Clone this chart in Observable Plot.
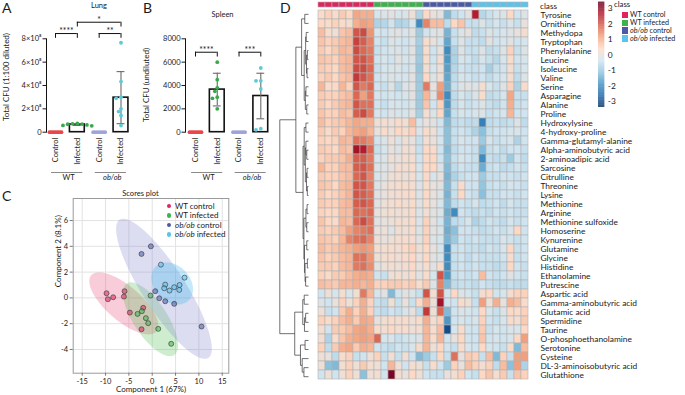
<!DOCTYPE html>
<html>
<head>
<meta charset="utf-8">
<script src="https://cdn.jsdelivr.net/npm/d3@7"></script>
<script src="https://cdn.jsdelivr.net/npm/@observablehq/plot@0.6"></script>
<style>
  html,body{margin:0;padding:0;background:#fff;}
  #wrap{position:relative;width:685px;height:395px;overflow:hidden;background:#fff;font-family:Lato,"Open Sans",sans-serif;color:#1a1a1a;}
  #wrap > svg{position:absolute;left:0;top:0;}
  .t{position:absolute;white-space:nowrap;line-height:1;color:#1a1a1a;}
</style>
</head>
<body>
<div id="wrap"></div>
<script>
// ===================== DATA =====================
const groups = ["WT control","WT infected","ob/ob control","ob/ob infected"];
const conditionTicks = ["Control","Infected","Control","Infected"];
const genotypes = ["WT","ob/ob"];

// Panel A – Lung, total CFU (1:100 diluted)
const lungPoints = [
  [0,0,0,0,0,0,0,0],
  [0.72e8,0.68e8,0.62e8,0.58e8,0.55e8,0.70e8,0.75e8],
  [0,0,0,0,0,0,0],
  [7.66e8,4.34e8,3.0e8,2.9e8,2.0e8,1.77e8,1.43e8,0.57e8]
];
const lungMean = [0,0.66e8,0,2.96e8];
const lungSD = [0,0.08e8,0,2.23e8];
const lungTicks = [0,2e8,4e8,6e8,8e8];
const lungSigPairs = [[0,1],[2,3],[1,3]];
const lungSigLabels = ["****","**","*"];
const lungSigLevels = [8.45e8,8.45e8,9.42e8];

// Panel B – Spleen, total CFU (undiluted)
const spleenPoints = [
  [0,0,0,0,0,0,0,0],
  [6000,4500,3800,3500,3000,2900,2000],
  [0,0,0,0,0,0,0],
  [5500,4400,4400,3700,200,300]
];
const spleenMean = [0,3650,0,3100];
const spleenSD = [0,1400,0,1950];
const spleenTicks = [0,2000,4000,6000,8000];
const spleenSigPairs = [[0,1],[2,3]];
const spleenSigLabels = ["****","***"];
const spleenSigLevels = [6850,6850];

// Panel C – PLS-DA scores (Component 1, Component 2)
const scoresWTcontrol = [[-9.79,0.36],[-9.5,-0.10],[-8.36,0.05],[-5.93,0.52],[-6.07,0.10],[-4.79,-1.14],[-1.93,-0.77],[-2.29,-2.43]];
const scoresWTinfected = [[-3.14,-1.24],[-2.21,-1.03],[-1.36,-1.57],[-0.86,-1.96],[-0.36,0.18],[1.29,-2.40],[4.07,-3.56]];
const scoresObControl = [[-2.29,3.41],[-0.29,4.0],[0.64,0.52],[1.5,-0.03],[2.79,-0.26],[4.71,-0.46],[10.57,-2.22]];
const scoresObInfected = [[1.86,2.58],[2.79,1.03],[2.57,0.75],[3.71,0.57],[4.71,0.83],[5.86,1.0],[5.79,0.62],[6.93,1.57]];
const scoresXTicks = [-15,-10,-5,0,5,10,15];
const scoresYTicks = [-4,-2,0,2,4,6];

// Panel D – heatmap
const metabolites = ["Tyrosine","Ornithine","Methydopa","Tryptophan","Phenylalanine","Leucine","Isoleucine","Valine","Serine","Asparagine","Alanine","Proline","Hydroxylysine","4-hydroxy-proline","Gamma-glutamyl-alanine","Alpha-aminobutyric acid","2-aminoadipic acid","Sarcosine","Citrulline","Threonine","Lysine","Methionine","Arginine","Methionine sulfoxide","Homoserine","Kynurenine","Glutamine","Glycine","Histidine","Ethanolamine","Putrescine","Aspartic acid","Gamma-aminobutyric acid","Glutamic acid","Spermidine","Taurine","O-phosphoethanolamine","Serotonine","Cysteine","DL-3-aminoisobutyric acid","Glutathione"];
const sampleClass = ["WT control","WT control","WT control","WT control","WT control","WT control","WT control","WT control",
  "WT infected","WT infected","WT infected","WT infected","WT infected","WT infected","WT infected",
  "ob/ob control","ob/ob control","ob/ob control","ob/ob control","ob/ob control","ob/ob control","ob/ob control",
  "ob/ob infected","ob/ob infected","ob/ob infected","ob/ob infected","ob/ob infected","ob/ob infected","ob/ob infected","ob/ob infected"];
const heat = [
[0.3,0.5,0.3,0.6,0.4,1.1,1.0,1.0,-0.3,-0.2,-0.1,-0.3,-0.2,0.1,-0.8,0.4,0.0,-0.1,-1.3,-0.6,-0.4,-0.1,2.6,-0.7,-0.5,-0.3,-0.2,0.4,-0.4,-0.2],
[0.4,0.3,0.5,0.3,0.2,1.0,1.2,1.1,-0.8,-0.7,-0.4,-0.8,-0.7,-0.3,-2.0,1.5,0.8,0.8,-0.6,0.4,0.7,-0.5,-0.5,-0.2,-0.5,-0.3,-0.5,-0.2,-0.5,0.0],
[0.8,0.3,0.1,0.7,0.8,2.0,2.1,1.3,-0.3,-0.4,-0.2,-0.1,-0.3,-0.1,-1.0,-0.4,-0.2,-0.1,-1.4,-0.5,-0.2,0.0,-0.6,-0.5,-0.2,-0.4,-0.3,-0.2,0.0,0.2],
[0.7,0.5,0.6,0.8,0.9,2.2,1.9,1.5,-0.4,-0.5,-0.2,-0.3,-0.4,-0.2,-0.9,0.3,0.0,-0.3,-1.6,-0.5,-0.2,-0.5,-0.5,-0.6,-0.1,-0.4,-0.3,-0.1,-0.4,-0.3],
[0.6,0.4,0.6,0.9,0.8,2.1,1.8,1.6,-0.5,-0.4,-0.3,-0.2,-0.4,-0.1,-1.0,0.3,-0.4,0.0,-2.0,-0.8,-0.2,-0.5,-0.5,-0.2,-0.6,-0.5,-0.2,0.5,-0.5,-0.2],
[0.7,0.6,0.5,0.8,0.9,2.0,2.0,1.7,-0.4,-0.3,-0.4,-0.1,-0.3,-0.2,-1.0,0.3,-0.4,0.2,-1.8,-0.8,-0.3,-0.4,-0.6,-0.3,-0.5,-0.7,-0.3,0.3,-0.4,-0.3],
[0.6,0.5,0.4,0.8,0.9,2.1,2.1,1.8,-0.5,-0.3,-0.3,-0.2,-0.4,-0.2,-1.1,0.2,-0.3,0.1,-1.7,-0.7,-0.4,-0.5,-0.5,-0.4,-0.9,-0.5,-0.4,0.2,-0.5,-0.3],
[0.5,0.6,0.4,0.7,0.8,2.3,2.0,1.7,-0.4,-0.3,-0.2,-0.3,-0.3,-0.1,-1.0,0.4,-0.2,0.1,-1.6,-0.6,-0.3,-0.4,-0.5,-0.4,-0.6,-0.4,-0.3,0.2,-0.6,-0.2],
[0.9,0.3,0.4,0.9,0.5,2.0,1.6,1.8,-0.4,-0.5,-0.2,-0.7,-0.2,-0.1,-1.0,1.6,0.0,1.2,-1.5,-0.5,-0.2,-0.1,-0.2,0.2,-0.3,-0.5,-0.2,0.5,-0.8,0.3],
[0.6,0.5,0.5,0.7,0.8,1.8,1.2,1.6,-0.3,-0.4,-0.3,-0.4,-0.3,-0.1,-1.0,0.9,-0.1,1.4,-2.0,-0.6,-0.3,-0.5,-0.2,0.3,-0.6,-0.5,-0.3,1.1,-0.5,-0.5],
[0.6,0.4,0.6,0.8,0.9,2.0,1.7,1.7,-0.4,-0.5,-0.3,-0.3,-0.4,-0.2,-1.0,0.7,-0.4,0.5,-1.8,-0.6,-0.3,-0.5,-0.4,-0.2,-0.5,-0.6,-0.4,1.0,-0.5,-0.4],
[0.7,0.5,0.5,0.8,0.7,1.9,2.1,1.6,-0.3,-0.4,-0.2,-0.3,-0.3,-0.1,-0.9,0.2,-0.2,0.4,-1.6,-0.5,-0.3,-0.4,-0.3,-0.2,-0.5,-0.4,-0.3,0.9,-0.4,-0.4],
[0.8,0.5,0.6,0.7,0.9,1.1,1.0,1.0,0.1,0.2,0.1,0.3,0.2,0.8,-0.3,0.0,-0.1,-0.4,-1.3,-0.6,-0.5,-0.6,-0.6,-2.2,-0.6,-0.5,-0.6,-0.5,-0.2,-0.6],
[0.6,0.3,0.6,0.5,0.9,1.1,1.2,0.9,0.0,0.3,0.1,0.4,0.3,0.5,-0.2,0.3,0.1,-0.4,-1.2,-0.5,-0.4,-0.5,-0.8,-1.2,-0.5,-0.4,-0.4,-0.3,-0.3,-0.4],
[0.5,0.4,0.5,0.9,0.8,1.7,1.6,1.4,-0.4,-0.2,0.1,-0.2,0.1,0.0,-0.5,0.2,0.0,-0.3,-1.2,-0.5,-0.3,-0.4,-0.4,-1.0,-0.3,-0.5,-0.4,-0.3,-0.8,-0.4],
[0.6,0.5,0.4,0.8,0.7,2.8,2.6,1.8,-0.5,-0.3,0.0,-0.2,0.2,0.1,-0.5,0.4,0.3,-0.4,-1.3,-0.6,-0.4,-0.4,-0.5,-1.3,-0.5,-0.4,-0.6,-0.4,-0.4,-0.5],
[0.5,0.6,0.6,0.7,1.0,1.9,1.9,1.6,-0.3,-0.2,0.1,0.0,0.2,0.2,-0.4,0.4,0.4,-0.4,-1.2,-0.5,-0.3,-0.4,-0.5,-2.0,-0.5,-0.6,-0.5,-1.0,-0.4,-0.6],
[0.9,0.5,0.5,0.8,0.8,1.9,2.0,1.7,-0.2,-0.2,0.0,0.2,0.2,0.3,-0.3,0.4,0.4,-0.2,-1.3,-0.6,-0.4,-0.5,-0.5,-1.5,-0.5,-0.4,-0.6,-0.5,-0.4,-0.5],
[0.6,0.5,0.5,0.7,0.8,1.8,2.0,1.5,-0.3,-0.1,0.1,0.2,0.1,0.2,-0.3,0.4,-0.3,0.0,-1.4,-0.8,-0.5,-0.4,-0.4,-1.0,-0.5,-0.5,-0.4,-0.4,-0.5,-0.4],
[0.7,0.6,0.4,0.8,0.9,2.0,2.0,1.6,-0.2,0.0,0.2,0.2,0.3,0.2,-0.2,0.3,0.0,-0.1,-1.3,-0.5,0.3,-0.4,-0.4,-1.1,-0.5,-0.4,-0.5,-0.3,-0.4,-0.5],
[0.6,0.4,0.5,0.7,0.9,2.0,1.9,1.7,-0.1,0.0,0.2,0.2,0.3,0.3,-0.2,0.4,0.0,-0.2,-1.4,-0.5,0.4,-0.4,-0.5,-1.2,-0.5,-0.5,-0.4,-0.4,-0.5,-0.4],
[0.6,0.5,0.5,0.8,0.9,1.9,2.0,1.8,-0.1,0.1,0.2,0.3,0.2,0.3,-0.1,0.3,0.0,-0.3,-1.3,-0.6,-0.4,-0.5,-0.3,-0.6,-0.5,-0.4,-0.6,-0.3,-0.5,-0.5],
[0.5,0.4,0.4,0.8,0.8,1.8,1.7,1.8,0.0,0.1,0.2,0.1,0.2,0.3,-0.2,0.2,-0.1,-0.2,-1.5,-2.0,-0.4,-0.5,-0.6,-0.5,-0.6,-0.4,-0.5,-0.4,-0.5,-0.5],
[0.7,0.4,0.3,0.9,0.8,1.8,2.1,1.7,-0.1,0.0,0.1,0.2,0.2,0.3,-0.2,0.5,-0.1,-0.4,-1.4,-0.6,-0.5,-0.3,-0.8,-0.6,-0.4,-0.5,-0.6,-0.3,-0.5,-0.4],
[0.6,0.5,0.6,0.8,1.2,1.5,1.6,1.7,0.0,0.1,-0.2,0.2,0.1,0.3,-0.2,0.5,-0.1,-0.2,-1.5,-1.2,-0.4,-0.4,-0.5,-0.6,-0.5,-0.4,-0.5,-0.3,0.4,-0.4],
[0.7,0.6,0.5,0.9,1.5,1.7,1.8,1.5,0.1,0.0,0.1,0.2,0.3,0.2,-0.1,0.5,-0.2,-0.3,-1.4,-1.0,-0.4,-0.5,-0.4,-0.5,-0.5,-0.5,-0.3,-0.4,-0.5,-0.4],
[0.8,0.6,0.7,0.9,1.0,1.2,1.3,1.2,0.2,0.2,0.3,0.2,0.4,0.5,0.1,0.4,0.0,-0.3,-2.0,-0.5,-0.4,-0.5,-0.5,-0.6,-0.4,-0.5,-0.3,0.4,-0.5,-0.4],
[0.7,0.5,0.6,0.8,0.9,1.7,1.7,1.3,0.1,0.2,0.3,0.1,0.3,0.4,0.0,0.4,-0.1,-0.2,-2.0,-0.5,-0.4,-0.6,-0.4,-0.5,-0.5,-0.5,-0.4,0.3,-0.5,-0.4],
[0.6,0.6,0.5,0.8,0.9,1.6,1.7,1.4,-0.1,0.1,0.2,0.1,0.2,0.4,0.0,0.3,-0.1,0.3,-2.0,-0.5,-0.4,-0.5,-0.4,-0.5,-0.5,-0.6,-0.5,0.4,-0.4,-0.5],
[0.5,0.3,0.6,0.6,0.8,1.0,1.1,1.0,-0.4,-0.5,0.1,0.2,0.1,0.3,-0.1,0.3,-0.3,2.0,-1.8,-0.5,-0.4,-0.5,-0.4,0.8,-0.4,-0.5,-0.4,-0.1,-0.4,-0.5],
[0.8,0.7,0.6,0.9,0.9,1.0,0.9,1.0,0.5,0.5,0.6,0.6,0.5,0.6,0.3,0.6,-0.2,1.5,-1.3,-0.6,-0.5,-0.5,-0.6,-0.4,-0.5,-0.6,-0.6,-0.5,-0.6,-0.6],
[-0.4,0.1,-0.3,0.2,-0.3,0.2,1.6,0.9,-0.3,-0.1,-1.3,-0.4,-0.1,-0.2,-0.5,2.0,0.2,2.0,-0.3,0.4,-0.2,-0.3,-0.5,0.2,0.4,-0.4,-0.3,0.2,0.5,0.5],
[-0.2,-0.4,0.0,0.5,0.1,0.5,1.0,0.5,-0.5,-0.6,0.1,-0.5,0.0,-0.5,0.4,1.0,0.1,2.8,-0.4,-0.4,0.3,0.1,-0.5,1.2,0.1,1.0,0.0,1.0,0.8,0.3],
[0.1,-0.5,-0.4,0.6,1.0,0.5,1.0,0.5,-0.5,-0.6,-0.4,-0.5,-0.3,0.0,-0.6,2.3,0.1,1.8,-1.3,-0.4,-0.2,-0.3,-0.4,0.4,-0.3,-0.5,-0.2,0.4,0.3,0.5],
[0.5,0.3,0.5,0.8,1.0,0.6,1.1,1.0,0.0,0.2,0.3,0.2,0.3,0.1,0.3,1.0,0.2,0.5,-1.8,-0.4,-0.3,-0.4,-0.3,0.5,-0.4,-0.5,-0.3,0.3,0.2,0.6],
[0.2,-0.4,0.6,0.6,0.8,1.1,1.2,1.0,0.3,0.2,0.4,0.2,0.3,0.1,0.2,0.9,0.3,0.8,-3.0,-0.3,0.3,-0.4,-0.4,0.6,-0.5,-0.3,-0.4,-0.2,-0.3,0.4],
[0.2,-0.8,0.3,0.7,1.0,1.1,1.2,1.1,1.8,-0.3,-0.3,-0.5,-0.4,-0.3,-0.2,0.9,0.3,0.9,-0.4,0.0,0.4,-0.4,-0.4,0.7,-0.4,-0.3,-0.4,-0.3,0.4,1.2],
[0.5,-0.6,0.6,1.0,1.1,0.6,1.0,0.9,-0.4,-0.5,-0.6,-0.4,-0.5,-0.3,0.3,0.9,0.1,0.4,-0.4,-0.5,0.3,-0.3,-0.4,0.4,-0.3,-0.4,-0.5,0.3,-1.3,0.8],
[0.1,0.0,-0.6,0.3,0.5,-0.5,-0.4,0.1,0.5,-0.5,0.1,-0.5,0.1,-0.4,-1.3,-1.0,-0.5,0.4,-0.5,1.7,0.0,0.6,0.5,-0.5,0.8,-1.3,0.5,-0.5,1.2,1.2],
[0.1,-1.2,-1.3,0.2,0.5,0.1,0.6,0.2,0.1,-0.4,0.9,0.1,-0.4,0.2,0.1,-0.5,0.3,-0.4,-1.0,0.5,0.0,0.8,0.5,0.2,0.5,-0.6,0.8,-1.2,1.2,-0.8],
[-0.4,0.1,-0.4,0.1,0.5,0.1,-1.2,0.1,0.2,-0.4,3.2,0.2,0.0,0.4,0.1,-0.4,-0.5,-0.5,0.0,0.2,0.5,-0.4,-0.5,0.4,0.7,0.2,0.6,-0.5,0.7,0.5]
];
const heatLegendTicks = [-3,-2,-1,0,1,2,3];
const heatPalette = ["#053061","#2166ac","#4393c3","#92c5de","#d1e5f0","#fddbc7","#f4a582","#d6604d","#b2182b","#67001f"];
// row dendrogram: [left, right, mergeHeight]; leaves are row indices
const treeTopA = [[0,1,1.3],[[[2,3,0.8],[[4,5,0.4],[6,7,0.5],0.7],1.0],[[8,9,0.9],[10,11,0.6],1.1],1.5],2.4];
const treeTopB1 = [[12,13,0.9],[[14,[15,16,0.6],0.9],[[17,18,0.5],[19,20,0.4],0.7],1.1],1.5];
const treeTopB2 = [[[21,22,0.5],[23,24,0.6],0.9],[[25,26,0.6],[[27,28,0.4],[29,30,1.0],1.2],1.4],1.6];
const treeBottom = [[[31,32,1.5],[[33,34,1.0],35,1.4],2.0],[[36,37,1.2],[38,[39,40,1.6],2.2],2.8],4.8];
const rowTree = [[treeTopA,[treeTopB1,treeTopB2,1.9],4.4],treeBottom,10];

// colours
const classColors = ["#e0245e","#3cb44b","#4a5aa8","#5bc3ec"];
const barColors = ["#e8474a","#3aa84c","#9ea3dc","#5ccad8"];
const ellipseColors = ["#e8557f","#5dbf5d","#8a90d0","#3db7ee"];

// ===================== RENDER =====================
const W = 685, H = 395;
const FONT = 'Lato, "Open Sans", sans-serif';
const wrap = document.getElementById("wrap");
const base = () => ({width: W, height: H, style: {background: "transparent", fontFamily: FONT, color: "#1a1a1a", overflow: "visible"}});
function mount(svg){ wrap.appendChild(svg); }
function txt(html, x, y, size, transform = "translate(-50%,-50%)", extra = {}){
  const d = document.createElement("div");
  d.className = "t"; d.innerHTML = html;
  d.style.left = x + "px"; d.style.top = y + "px"; d.style.fontSize = size + "px";
  d.style.transform = transform;
  Object.assign(d.style, extra);
  wrap.appendChild(d);
}
function swarmOffsets(py, diam, step){
  const order = d3.range(py.length).sort((a,b) => py[a]-py[b]);
  const placed = [], offs = [];
  for (const i of order){
    let o = 0;
    for (let k = 0; k < 40; k++){
      o = k === 0 ? 0 : (k % 2 ? -1 : 1) * Math.ceil(k/2) * step;
      if (placed.every(p => (p.x-o)**2 + (p.y-py[i])**2 >= diam*diam)) break;
    }
    placed.push({x:o, y:py[i]}); offs[i] = o;
  }
  return offs;
}

function barPanel({points, means, sds, ticks, tickFormat, sigPairs, sigLabels, sigLevels, axisX, xRange, yDomain}){
  const yRange = [131.7, 38.3];
  const yS = Plot.scale({y: {domain: yDomain, range: yRange}});
  const unit = (xRange[1]-xRange[0])/3;
  const dots = [];
  points.forEach((vals, g) => {
    const py = vals.map(v => yS.apply(v));
    const offs = d3.min(vals) === d3.max(vals)
      ? vals.map((v,i) => (i/(vals.length-1)-0.5)*12)
      : swarmOffsets(py, 3.6, 2.4);
    vals.forEach((v,i) => dots.push({g, v, x: g + offs[i]/unit}));
  });
  const bars = means.map((m,g) => ({g, m, sd: sds[g]})).filter(d => d.m > 0);
  const sig = sigPairs.map(([a,b],k) => ({a, b, label: sigLabels[k], lv: sigLevels[k], leg: yS.invert(yS.apply(sigLevels[k]) + 4.8)}));
  const hw = 0.34, cap = 0.18;
  return Plot.plot({...base(),
    marginLeft: axisX, marginRight: W-(xRange[1]+12), marginTop: yRange[1], marginBottom: H-yRange[0],
    x: {type: "linear", domain: [0,3], range: xRange, axis: null},
    y: {type: "linear", domain: yDomain, range: yRange, axis: null},
    color: {type: "ordinal", domain: [0,1,2,3], range: barColors},
    marks: [
      Plot.frame({anchor: "left", stroke: "#111", strokeWidth: 1}),
      Plot.axisY({ticks, tickFormat, tickSize: 3.5, tickPadding: 1.5, fontSize: 7.5, label: null, strokeWidth: 1}),
      Plot.rect(bars, {x1: d => d.g-hw, x2: d => d.g+hw, y1: () => 0, y2: "m", fill: "white", stroke: "#111", strokeWidth: 1.6}),
      Plot.ruleX(bars, {x: "g", y1: d => d.m-d.sd, y2: d => d.m+d.sd, stroke: "#6b6b6b", strokeWidth: 1.1}),
      Plot.ruleY(bars, {y: d => d.m+d.sd, x1: d => d.g-cap, x2: d => d.g+cap, stroke: "#6b6b6b", strokeWidth: 1.1}),
      Plot.ruleY(bars, {y: d => d.m-d.sd, x1: d => d.g-cap, x2: d => d.g+cap, stroke: "#6b6b6b", strokeWidth: 1.1}),
      Plot.dot(dots, {x: "x", y: "v", r: 1.9, fill: "g", stroke: "none"}),
      Plot.ruleY(sig, {y: "lv", x1: "a", x2: "b", stroke: "#111", strokeWidth: 1}),
      Plot.ruleX(sig, {x: "a", y1: "leg", y2: "lv", stroke: "#111", strokeWidth: 1}),
      Plot.ruleX(sig, {x: "b", y1: "leg", y2: "lv", stroke: "#111", strokeWidth: 1}),
      Plot.text(sig, {x: d => (d.a+d.b)/2, y: "lv", text: "label", dy: -2, fontSize: 8.5, lineAnchor: "middle"}),
      Plot.text(conditionTicks, {x: (d,i) => i, y: () => 0, text: d => d, rotate: -90, textAnchor: "end", lineAnchor: "middle", dy: 5.5, fontSize: 7.5}),
      Plot.ruleY(genotypes, {y: () => 0, x1: (d,i) => 2*i-0.18, x2: (d,i) => 2*i+1.25, dy: 40.3, stroke: "#8a8a8a", strokeWidth: 1}),
      Plot.text(genotypes, {filter: d => d === "WT", x: d => 2*genotypes.indexOf(d)+0.6, y: () => 0, text: d => d, dy: 45.3, fontSize: 7.5, lineAnchor: "middle"}),
      Plot.text(genotypes, {filter: d => d !== "WT", x: d => 2*genotypes.indexOf(d)+0.6, y: () => 0, text: d => d, dy: 45.3, fontSize: 7.5, lineAnchor: "middle", fontStyle: "italic"})
    ]
  });
}

// Panel A
mount(barPanel({points: lungPoints, means: lungMean, sds: lungSD, ticks: lungTicks,
  tickFormat: d => d === 0 ? "0" : `${d/1e8}×10⁸`, sigPairs: lungSigPairs, sigLabels: lungSigLabels, sigLevels: lungSigLevels,
  axisX: 46, xRange: [55, 120.5], yDomain: [0, 8e8]}));
// Panel B
mount(barPanel({points: spleenPoints, means: spleenMean, sds: spleenSD, ticks: spleenTicks,
  tickFormat: d => String(d), sigPairs: spleenSigPairs, sigLabels: spleenSigLabels, sigLevels: spleenSigLevels,
  axisX: 185, xRange: [195, 260.3], yDomain: [0, 8000]}));

// Panel C
function ellipse(pts){
  const n = pts.length, mx = d3.mean(pts, p => p[0]), my = d3.mean(pts, p => p[1]);
  let sxx = 0, syy = 0, sxy = 0;
  for (const [x,y] of pts){ sxx += (x-mx)**2; syy += (y-my)**2; sxy += (x-mx)*(y-my); }
  sxx /= n-1; syy /= n-1; sxy /= n-1;
  const tr = (sxx+syy)/2, dd = Math.sqrt(((sxx-syy)/2)**2 + sxy**2);
  const l1 = tr+dd, l2 = tr-dd, th = Math.atan2(l1-sxx, sxy), k = 5.991;
  return d3.range(0, 361, 3).map(a => {
    const t = a*Math.PI/180, u = Math.sqrt(k*l1)*Math.cos(t), v = Math.sqrt(k*l2)*Math.sin(t);
    return {x: mx + u*Math.cos(th) - v*Math.sin(th), y: my + u*Math.sin(th) + v*Math.cos(th)};
  });
}
const scoreSets = [scoresWTcontrol, scoresWTinfected, scoresObControl, scoresObInfected];
const scorePts = scoreSets.flatMap((s,g) => s.map(([x,y]) => ({x, y, g: groups[g]})));
mount(Plot.plot({...base(),
  marginLeft: 72.7, marginRight: W-228.3, marginTop: 198, marginBottom: H-372.7,
  x: {domain: [-16.93, 16.41], range: [72.7, 228.3], axis: null},
  y: {domain: [-5.84, 7.71], range: [372.7, 198], axis: null},
  color: {type: "ordinal", domain: groups, range: classColors},
  marks: [
    Plot.gridX({ticks: scoresXTicks, stroke: "#e2e2e2", strokeOpacity: 1}),
    Plot.gridY({ticks: scoresYTicks, stroke: "#e2e2e2", strokeOpacity: 1}),
    ...scoreSets.map((s,g) => Plot.line(ellipse(s), {x: "x", y: "y", fill: ellipseColors[g], fillOpacity: 0.3, stroke: "none"})),
    Plot.frame({stroke: "#9a9a9a"}),
    Plot.axisX({ticks: scoresXTicks, tickFormat: d => String(d), tickSize: 3, tickPadding: 2, fontSize: 7.5, label: null, stroke: "#777"}),
    Plot.axisY({ticks: scoresYTicks, tickFormat: d => String(d), tickSize: 3, tickPadding: 2, fontSize: 7.5, label: null, stroke: "#777"}),
    Plot.dot(scorePts, {x: "x", y: "y", r: 2.5, fill: "g", fillOpacity: 0.55, stroke: "#333", strokeWidth: 0.6}),
    Plot.text(["Component 1 (67%)"], {frameAnchor: "bottom", dy: 16.3, fontSize: 8, lineAnchor: "middle"}),
    Plot.text(["Component 2 (8.1%)"], {frameAnchor: "left", dx: -15.2, dy: 1.3, rotate: -90, fontSize: 8, lineAnchor: "middle"}),
    Plot.text(["Scores plot"], {frameAnchor: "top", dx: -10.5, dy: -4.5, fontSize: 7.5, lineAnchor: "middle"})
  ]
}));

// Panel D – dendrogram
const segs = [];
function walk(node){
  if (typeof node === "number") return {y: node, h: 0};
  const [l, r, h] = node;
  const L = walk(l), R = walk(r);
  segs.push({x1: h, y1: L.y, x2: h, y2: R.y});
  segs.push({x1: h, y1: L.y, x2: L.h, y2: L.y});
  segs.push({x1: h, y1: R.y, x2: R.h, y2: R.y});
  return {y: (L.y+R.y)/2, h};
}
walk(rowTree);
mount(Plot.plot({...base(),
  marginLeft: 279, marginRight: W-308, marginTop: 13.8, marginBottom: H-376.2,
  x: {domain: [10, 0], range: [279.3, 308], axis: null},
  y: {domain: [0, metabolites.length-1], range: [13.83, 376.2], axis: null},
  marks: [Plot.link(segs, {x1: "x1", y1: "y1", x2: "x2", y2: "y2", stroke: "#333", strokeWidth: 0.7})]
}));

// Panel D – heatmap cells
const cells = heat.flatMap((row, r) => row.map((v, c) => ({m: metabolites[r], c, v})));
const heatColor = {type: "linear", domain: heatPalette.map((c,i) => -3.4 + i*6.8/(heatPalette.length-1)), range: heatPalette, interpolate: "rgb", clamp: true};
mount(Plot.plot({...base(),
  marginLeft: 308, marginRight: W-537, marginTop: 9.3, marginBottom: H-380.7,
  x: {type: "band", domain: d3.range(sampleClass.length), range: [308, 537], padding: 0, axis: null},
  y: {type: "band", domain: metabolites, range: [9.3, 380.7], padding: 0, axis: null},
  color: heatColor,
  marks: [
    Plot.cell(cells, {x: "c", y: "m", fill: "v", stroke: "#b2b2b2", strokeWidth: 0.6, inset: 0}),
    Plot.axisY({anchor: "right", tickSize: 0, tickPadding: 3, fontSize: 8.4, label: null})
  ]
}));
// class bar
mount(Plot.plot({...base(),
  marginLeft: 308, marginRight: W-537, marginTop: 1.7, marginBottom: H-7.6,
  x: {type: "band", domain: d3.range(sampleClass.length), range: [308, 537], padding: 0, axis: null},
  y: {type: "band", domain: ["class"], range: [1.7, 7.6], padding: 0, axis: null},
  color: {type: "ordinal", domain: groups, range: classColors},
  marks: [
    Plot.cell(sampleClass, {x: (d,i) => i, y: () => "class", fill: d => d, stroke: "#b2b2b2", strokeWidth: 0.6, inset: 0})
  ]
}));
// colour bar legend
const ramp = d3.range(-3.4, 3.4, 0.04).map(a => ({a, b: a+0.045}));
mount(Plot.plot({...base(),
  marginLeft: 598, marginRight: W-604.3, marginTop: 1.7, marginBottom: H-107,
  x: {domain: [0, 1], range: [598, 604.3], axis: null},
  y: {domain: [-3.4, 3.4], range: [107, 1.7], axis: null},
  color: heatColor,
  marks: [
    Plot.rect(ramp, {x1: () => 0, x2: () => 1, y1: "a", y2: "b", fill: d => (d.a+d.b)/2, inset: 0}),
    Plot.axisY({anchor: "right", ticks: heatLegendTicks, tickFormat: d => String(d), tickSize: 0, tickPadding: 3, fontSize: 8.4, label: null})
  ]
}));

// ===================== HTML TEXT =====================
txt("A", 2, 1, 14, "none");
txt("B", 143, 1, 14, "none");
txt("C", 2, 189, 14, "none");
txt("D", 280, 1, 14, "none");
txt("Lung", 99, 6, 7.5);
txt("Spleen", 222.5, 15, 7.5);
txt("Total CFU (1:100 diluted)", 5.5, 76.5, 8, "translate(-50%,-50%) rotate(-90deg)");
txt("Total CFU (undiluted)", 145.5, 85, 8, "translate(-50%,-50%) rotate(-90deg)");
txt("class", 540, 5.6, 8.2, "translate(0,-50%)");
// panel C legend
const legLabels = ["WT control","WT infected","<i>ob/ob</i> control","<i>ob/ob</i> infected"];
legLabels.forEach((l, i) => {
  const y = 206 + i*9.45;
  const dot = document.createElement("div");
  Object.assign(dot.style, {position: "absolute", left: "166.5px", top: (y-2.2)+"px", width: "4.4px", height: "4.4px", borderRadius: "50%", background: classColors[i]});
  wrap.appendChild(dot);
  txt(l, 175, y, 8, "translate(0,-50%)");
});
// panel D class legend
txt("class", 614, 5.2, 7.8, "translate(0,-50%)");
legLabels.forEach((l, i) => {
  const y = 14.8 + i*7.9;
  const box = document.createElement("div");
  Object.assign(box.style, {position: "absolute", left: "622px", top: (y-3.2)+"px", width: "6.4px", height: "6.4px", background: classColors[i]});
  wrap.appendChild(box);
  txt(l, 630, y, 7.2, "translate(0,-50%)");
});
</script>
</body>
</html>
